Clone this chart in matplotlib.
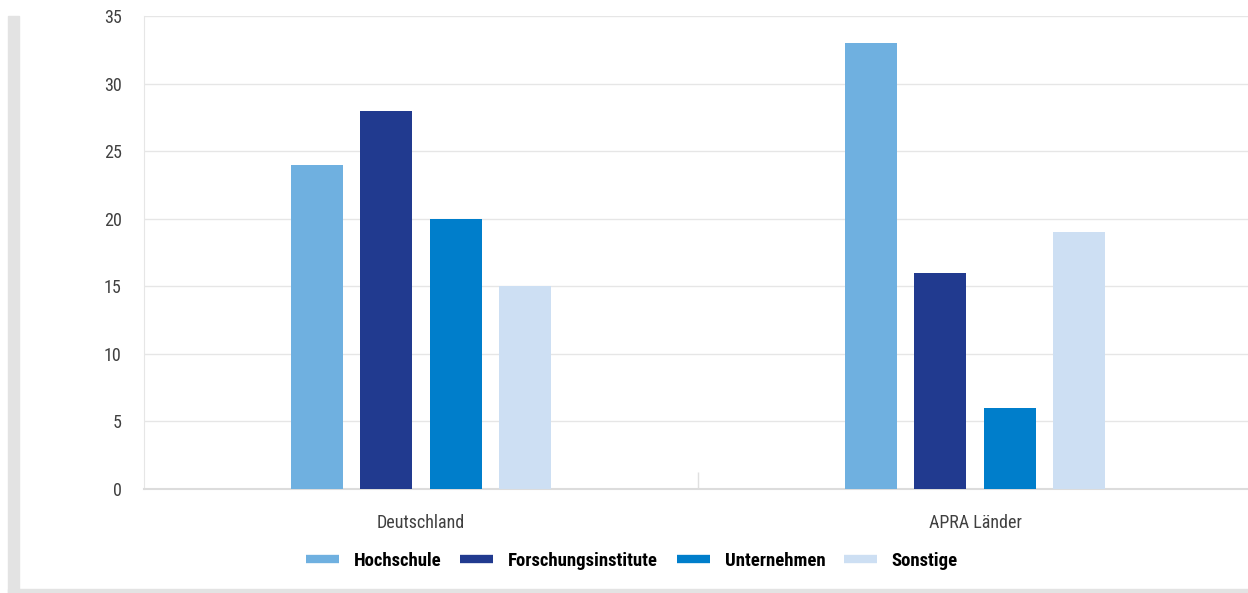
import matplotlib

matplotlib.use("Agg")

import matplotlib.pyplot as plt
import numpy as np
from matplotlib.patches import Rectangle
from matplotlib.lines import Line2D

categories = ["Deutschland", "APRA Länder"]
series_names = ["Hochschule", "Forschungsinstitute", "Unternehmen", "Sonstige"]
values = {
    "Hochschule": [24, 33],
    "Forschungsinstitute": [28, 16],
    "Unternehmen": [20, 6],
    "Sonstige": [15, 19],
}
colors = ["#6fb0e0", "#213a8f", "#007ecb", "#cddff3"]
y_ticks = [0, 5, 10, 15, 20, 25, 30, 35]

plt.rcParams["font.family"] = ["Liberation Sans Narrow", "Roboto Condensed",
                               "Open Sans Condensed", "DejaVu Sans"]
plt.rcParams["font.stretch"] = "condensed"

fig = plt.figure(figsize=(12.48, 5.93), dpi=100)

# grey frame strips on left and bottom
fig.patches.append(Rectangle((8 / 1248, 0), 11 / 1248, 1 - 16 / 593,
                             transform=fig.transFigure, color="#e3e3e3", zorder=0))
fig.patches.append(Rectangle((8 / 1248, 0), 1 - 8 / 1248, 4 / 593,
                             transform=fig.transFigure, color="#e3e3e3", zorder=0))

ax = fig.add_axes([144 / 1248, (593 - 489) / 593, 1108 / 1248, (489 - 16) / 593])

x = np.arange(len(categories))
step = 0.125
width = 0.094
for i, (name, color) in enumerate(zip(series_names, colors)):
    offset = (i - 1.5) * step
    ax.bar(x + offset, values[name], width=width, color=color, zorder=3, label=name)

ax.set_xlim(-0.5, 1.5)
ax.set_ylim(0, 35)
ax.set_yticks(y_ticks)
ax.set_yticklabels([str(t) for t in y_ticks], fontsize=13, color="#404040")
ax.set_xticks(x)
ax.set_xticklabels(categories, fontsize=13, color="#404040")
ax.tick_params(axis="y", length=0, pad=16)
ax.tick_params(axis="x", length=0, pad=18)

# small tick between the groups
ax.set_xticks([0.5], minor=True)
ax.tick_params(axis="x", which="minor", direction="in", length=12, color="#e0e0e0", width=1)

ax.grid(axis="y", color="#e6e6e6", linewidth=1, zorder=0)
for side in ["top", "right"]:
    ax.spines[side].set_visible(False)
ax.spines["left"].set_color("#e6e6e6")
ax.spines["bottom"].set_color("#dcdcdc")
ax.spines["bottom"].set_linewidth(1.5)

handles = [Line2D([0], [0], color=c, linewidth=6, solid_capstyle="butt") for c in colors]
fig.legend(handles, series_names, loc="center", bbox_to_anchor=(632 / 1248, 1 - 561 / 593),
           ncol=4, frameon=False, handlelength=1.75, handletextpad=0.8, columnspacing=1.0,
           prop={"weight": "bold", "size": 13.5})

fig.savefig("out.png", dpi=100)
